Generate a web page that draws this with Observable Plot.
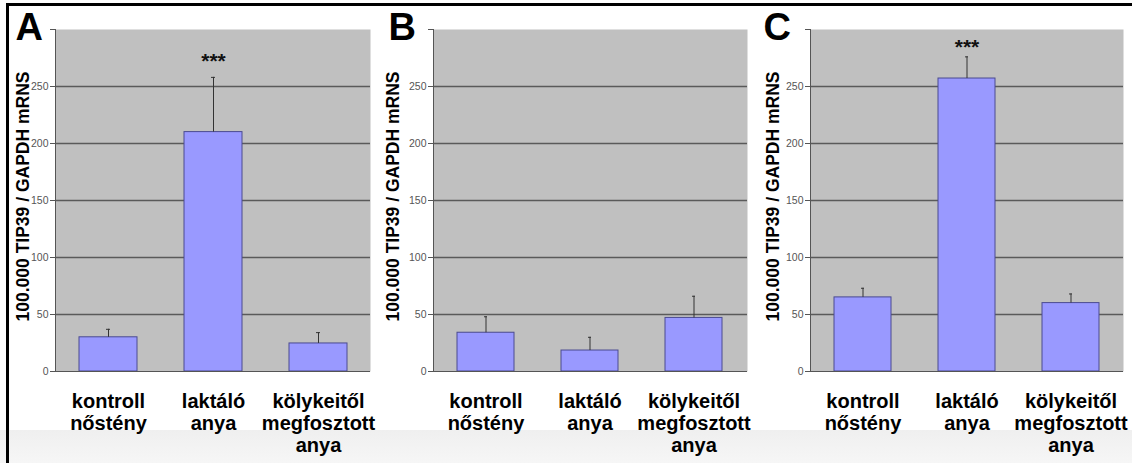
<!DOCTYPE html>
<html><head><meta charset="utf-8">
<script src="https://cdn.jsdelivr.net/npm/d3@7"></script>
<script src="https://cdn.jsdelivr.net/npm/@observablehq/plot@0.6"></script>
<style>
html,body{margin:0;padding:0;background:#fff;}
#wrap{position:relative;width:1132px;height:463px;overflow:hidden;background:#fff;font-family:"Liberation Sans",Arial,sans-serif;}
#band{position:absolute;left:0;top:430px;width:1132px;height:33px;background:linear-gradient(#efefef,#f6f6f6);}
#frame{position:absolute;left:6px;top:3px;width:1140px;height:480px;border-top:3px solid #000;border-left:3px solid #000;}
.panel{position:absolute;top:0;}
</style></head><body><div id="wrap"><div id="band"></div><div id="frame"></div></div>
<script>
// ---- data ----
const categories = ["kontroll\nnőstény", "laktáló\nanya", "kölykeitől\nmegfosztott\nanya"];
const yLabel = "100.000 TIP39 / GAPDH mRNS";
const yTicks = [0, 50, 100, 150, 200, 250, 300];
const gridValues = [50, 100, 150, 200, 250];

const meansA = [30, 210, 24.6];
const errA = [7, 48, 9.5];
const starsA = ["", "***", ""];

const meansB = [34, 18.4, 47];
const errB = [14, 11.6, 19];
const starsB = ["", "", ""];

const meansC = [65, 257, 60];
const errC = [8, 19, 8];
const starsC = ["", "***", ""];

// ---- drawing ----
function panel({letter, means, errs, stars, left, width, marginLeft, marginRight, labelDx, letterDx, starDy}) {
  const data = categories.map((c, i) => ({cat: c, mean: means[i], top: means[i] + errs[i], star: stars[i]}));
  const chart = Plot.plot({
    width, height: 463, marginLeft, marginRight, marginTop: 29, marginBottom: 92,
    style: {fontFamily: "'Liberation Sans', Arial, sans-serif", background: "transparent", overflow: "visible"},
    x: {domain: categories, paddingInner: 0.448, paddingOuter: 0.224, label: null},
    y: {domain: [0, 300], label: null},
    marks: [
      Plot.frame({fill: "#c0c0c0", stroke: null}),
      Plot.ruleY(gridValues, {stroke: "#5a5a5a", strokeWidth: 1.5}),
      Plot.barY(data, {x: "cat", y: "mean", fill: "#9999ff", stroke: "#4a4a90", strokeWidth: 1}),
      Plot.ruleX(data, {x: "cat", y1: "mean", y2: "top", stroke: "#333"}),
      Plot.tickY(data, {x: "cat", y: "top", stroke: "#333", insetLeft: 27, insetRight: 27}),
      Plot.text(data, {x: "cat", y: "top", text: "star", dy: starDy, fontSize: 21, fontWeight: "bold", fill: "#111"}),
      Plot.ruleY([0], {stroke: "#555"}),
      Plot.frame({anchor: "left", stroke: "#555"}),
      Plot.axisY({ticks: yTicks, tickFormat: d => d === 300 ? "" : String(d), tickSize: 5, tickPadding: 2, fontSize: 10.5, color: "#555", label: null}),
      Plot.axisX({tickSize: 0, tickPadding: 21, fontSize: 20, fontWeight: "bold", lineHeight: 1.1, color: "#000", label: null}),
      Plot.text([yLabel], {frameAnchor: "left", textAnchor: "middle", rotate: -90, dx: labelDx, dy: -4, fontSize: 17.5, fontWeight: "bold", fill: "#000"}),
      Plot.text([letter], {frameAnchor: "top-left", dx: letterDx, dy: 10, lineAnchor: "bottom", textAnchor: "start", fontSize: 38, fontWeight: "bold", fill: "#000"})
    ]
  });
  chart.classList.add("panel");
  chart.style.left = left + "px";
  document.getElementById("wrap").appendChild(chart);
}

panel({letter: "A", means: meansA, errs: errA, stars: starsA, left: 8, width: 368, marginLeft: 47, marginRight: 6, labelDx: -32.5, letterDx: -40, starDy: -16});
panel({letter: "B", means: meansB, errs: errB, stars: starsB, left: 376, width: 377, marginLeft: 57, marginRight: 6, labelDx: -40, letterDx: -45, starDy: -16});
panel({letter: "C", means: meansC, errs: errC, stars: starsC, left: 753, width: 379, marginLeft: 57, marginRight: 9, labelDx: -37, letterDx: -47, starDy: -10});
</script></body></html>
